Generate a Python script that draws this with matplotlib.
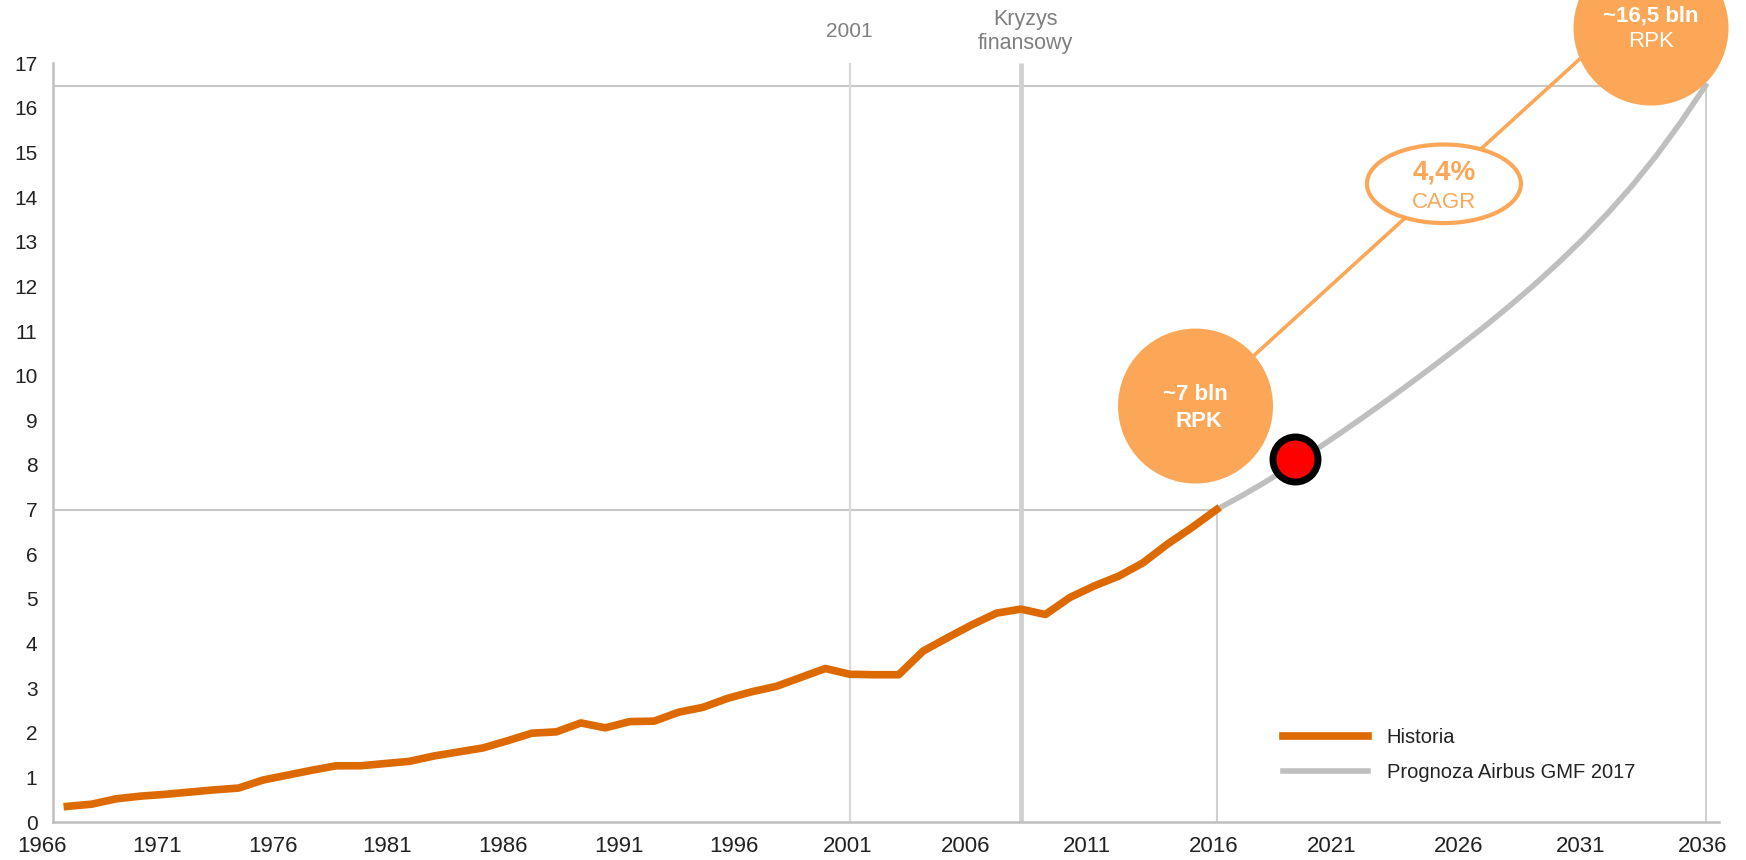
import matplotlib.pyplot as plt
from matplotlib.patches import Ellipse

plt.rcParams['font.family'] = ['Liberation Sans', 'DejaVu Sans']

# Historia: RPK (bln)
hist_years = list(range(1969, 2017))
hist_rpk = [0.35, 0.40, 0.52, 0.58, 0.62, 0.67, 0.72, 0.76, 0.94, 1.05,
            1.16, 1.26, 1.26, 1.31, 1.36, 1.48, 1.57, 1.66, 1.82, 1.99,
            2.02, 2.22, 2.11, 2.25, 2.26, 2.46, 2.57, 2.77, 2.92, 3.04,
            3.24, 3.44, 3.31, 3.30, 3.30, 3.83, 4.13, 4.42, 4.68, 4.77,
            4.65, 5.03, 5.29, 5.51, 5.81, 6.23, 6.60, 7.00]

# Prognoza Airbus GMF 2017
fc_years = list(range(2016, 2037))
fc_rpk = [7.0, 7.30, 7.62, 7.96, 8.32, 8.69, 9.07, 9.46, 9.86, 10.27, 10.69,
          11.12, 11.57, 12.04, 12.54, 13.07, 13.64, 14.26, 14.94, 15.69, 16.5]

event_years = [2001, 2008]
event_labels = ['2001', 'Kryzys\nfinansowy']

# podpisy osi X (w oryginale rozstawione nierowno)
x_labels = ['1966', '1971', '1976', '1981', '1986', '1991', '1996', '2001',
            '2006', '2011', '2016', '2021', '2026', '2031', '2036']
y_ticks = list(range(0, 18))

dot_year, dot_rpk = 2019.2, 8.14
cagr_text = ['4,4%', 'CAGR']
start_bubble = ['~7 bln', 'RPK']
end_bubble = ['~16,5 bln', 'RPK']

ORANGE = '#DD6A00'
LIGHT = '#FBA757'
GRID = '#C8C8C8'
X0 = 1968.4
X_RIGHT = 2036.55
label_pos = [1967.98, 1972.68, 1977.39, 1982.09, 1986.82, 1991.56, 1996.26,
             2000.9, 2005.75, 2010.7, 2015.9, 2020.7, 2025.9, 2030.9, 2035.9]

fig = plt.figure(figsize=(17.46, 8.6), dpi=100)
ax = fig.add_axes([0.01758, 0.044186, 0.96695, 0.88221])

# linie pomocnicze
ax.hlines(fc_rpk[-1], X0, fc_years[-1], color=GRID, lw=1.5, zorder=1)
ax.hlines(hist_rpk[-1], X0, hist_years[-1], color=GRID, lw=1.5, zorder=1)
ax.vlines(hist_years[-1], 0, hist_rpk[-1], color='#D0D0D0', lw=1.5, zorder=1)
ax.vlines(fc_years[-1], 0, fc_rpk[-1], color='#D0D0D0', lw=1.5, zorder=1)
ax.vlines(event_years[0], 0, 17, color='#D9D9D9', lw=1.6, zorder=1)
ax.vlines(event_years[1], 0, 17, color='#D0D0D0', lw=3.4, zorder=1)
ax.text(event_years[0], 17.71, event_labels[0], ha='center', va='center',
        fontsize=15, color='#7F7F7F')
ax.text(event_years[1] + 0.17, 17.72, event_labels[1], ha='center', va='center',
        fontsize=15.5, color='#7F7F7F', linespacing=1.2)

fc_line, = ax.plot(fc_years, fc_rpk, color='#BFBFBF', lw=4.0,
                   solid_joinstyle='round', zorder=3,
                   label='Prognoza Airbus GMF 2017')
hist_line, = ax.plot(hist_years, hist_rpk, color=ORANGE, lw=5.5,
                     solid_joinstyle='round', zorder=4, label='Historia')

# CAGR: linia laczaca, elipsa i babelki
ax.plot([2015.14, 2033.77], [9.26, 18.55], color=LIGHT, lw=2.6, zorder=5,
        clip_on=False)
ax.add_patch(Ellipse((2025.3, 14.3), 6.3, 1.76, facecolor='white',
                     edgecolor=LIGHT, lw=3, zorder=6))
ax.text(2025.3, 14.55, cagr_text[0], ha='center', va='center', fontsize=20,
        fontweight='bold', color=LIGHT, zorder=7)
ax.text(2025.3, 13.89, cagr_text[1], ha='center', va='center', fontsize=16,
        color=LIGHT, zorder=7)

ax.scatter([2015.14, 2033.77], [9.32, 17.79], s=12455, color=LIGHT,
           edgecolors='none', zorder=8, clip_on=False)
ax.text(2015.14, 9.59, start_bubble[0], ha='center', va='center',
        fontsize=16, fontweight='bold', color='white', zorder=9)
ax.text(2015.27, 8.98, start_bubble[1], ha='center', va='center',
        fontsize=16, fontweight='bold', color='white', zorder=9)
ax.text(2033.77, 18.05, end_bubble[0], ha='center', va='center',
        fontsize=16, fontweight='bold', color='white', zorder=9)
ax.text(2033.77, 17.49, end_bubble[1], ha='center', va='center',
        fontsize=16, color='white', zorder=9)

ax.plot(dot_year, dot_rpk, 'o', ms=32.4, mfc='#FF0000', mec='black', mew=5,
        zorder=10)

# osie
for side in ['top', 'right']:
    ax.spines[side].set_visible(False)
for side in ['left', 'bottom']:
    ax.spines[side].set_color('#BFBFBF')
    ax.spines[side].set_linewidth(1.8)
ax.spines['left'].set_position(('data', X0))
ax.spines['bottom'].set_bounds(X0, X_RIGHT)
ax.set_xticks(label_pos, labels=x_labels)
ax.set_yticks(y_ticks)
ax.set_xlim(1967.5, X_RIGHT)
ax.set_ylim(0, 17)
ax.tick_params(axis='x', length=0, pad=10, labelsize=16, labelcolor='#222222')
ax.tick_params(axis='y', length=0, pad=11, labelsize=15, labelcolor='#222222')

leg = ax.legend(handles=[hist_line, fc_line], loc='upper left',
                bbox_to_anchor=(0.7348, 0.1535), bbox_transform=fig.transFigure,
                frameon=False, fontsize=14.5, handlelength=4.2,
                handletextpad=0.95, labelspacing=0.8, borderpad=0,
                borderaxespad=0)
for t in leg.get_texts():
    t.set_color('#222222')

fig.savefig('out.png', dpi=100)
